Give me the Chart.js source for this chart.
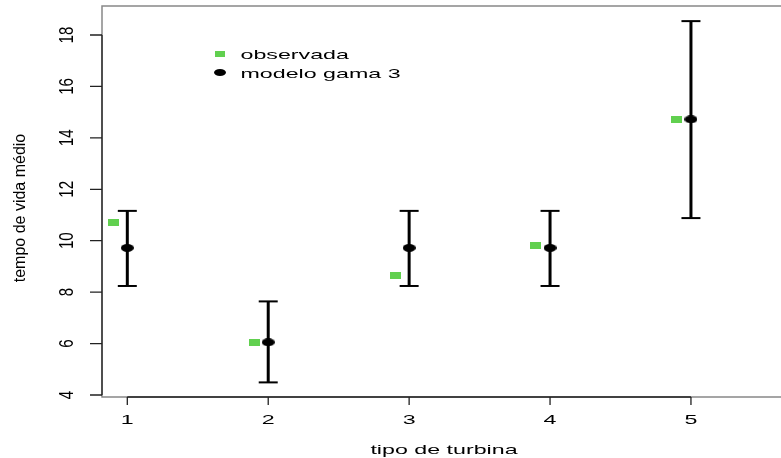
<!DOCTYPE html>
<html>
<head>
<meta charset="utf-8">
<script src="https://cdn.jsdelivr.net/npm/chart.js@4"></script>
<style>
  body { margin: 0; background: #fff; }
  canvas { display: block; }
</style>
</head>
<body>
<canvas id="turbinaChart" width="781" height="458"></canvas>
<script>
// tipo de turbina (x positions of the model and of the observed means)
const categories = [1, 2, 3, 4, 5];
const tickLabels = ['1', '2', '3', '4', '5'];
const observedX = [0.9, 1.9, 2.9, 3.9, 4.9];
const yTicks = [4, 6, 8, 10, 12, 14, 16, 18];

// tempo de vida medio
const observed = [10.71, 6.04, 8.65, 9.82, 14.72];
const modelMean = [9.72, 6.05, 9.72, 9.72, 14.72];
const modelLower = [8.24, 4.49, 8.24, 8.24, 10.88];
const modelUpper = [11.16, 7.64, 11.16, 11.16, 18.54];

const green = '#61D04F';
const font = '"Liberation Sans", Arial, sans-serif';

// small canvases used as point styles
function makeMarker(w, h, kind) {
  const c = document.createElement('canvas');
  c.width = w; c.height = h;
  const g = c.getContext('2d');
  if (kind === 'rect') {
    g.fillStyle = green;
    g.fillRect(0, 0, w, h);
  } else {
    g.fillStyle = '#000';
    g.beginPath();
    g.ellipse(w / 2, h / 2, w / 2, h / 2, 0, 0, Math.PI * 2);
    g.fill();
  }
  return c;
}
const greenRect = makeMarker(11, 7, 'rect');
const blackDot = makeMarker(13, 8, 'dot');
const greenRectLeg = makeMarker(10, 6, 'rect');
const blackDotLeg = makeMarker(12, 7, 'dot');

// text with separate scale along / across (the reference is stretched)
function drawText(ctx, s, x, y, size, sx, sy, rotated, align) {
  ctx.save();
  ctx.translate(x, y);
  if (rotated) ctx.rotate(-Math.PI / 2);
  ctx.scale(sx, sy);
  ctx.font = size + 'px ' + font;
  ctx.fillStyle = '#000';
  ctx.textAlign = align || 'center';
  ctx.textBaseline = 'alphabetic';
  ctx.fillText(s, 0, 0);
  ctx.restore();
}

const framePlugin = {
  id: 'rFrame',
  afterDraw(chart) {
    const ctx = chart.ctx;
    const a = chart.chartArea;
    const xs = chart.scales.x;
    const ys = chart.scales.y;

    // box (right side lies outside the picture)
    ctx.save();
    ctx.strokeStyle = '#888';
    ctx.lineWidth = 1.5;
    ctx.beginPath();
    ctx.moveTo(a.right + 5, a.top);
    ctx.lineTo(a.left, a.top);
    ctx.lineTo(a.left, a.bottom);
    ctx.lineTo(a.right + 5, a.bottom);
    ctx.stroke();

    // axes
    ctx.strokeStyle = '#222';
    ctx.lineWidth = 1.3;
    const x1 = xs.getPixelForValue(categories[0]);
    const x5 = xs.getPixelForValue(categories[categories.length - 1]);
    ctx.beginPath();
    ctx.moveTo(x1, a.bottom);
    ctx.lineTo(x5, a.bottom);
    categories.forEach(v => {
      const px = xs.getPixelForValue(v);
      ctx.moveTo(px, a.bottom);
      ctx.lineTo(px, a.bottom + 8);
    });
    const yb = ys.getPixelForValue(yTicks[0]);
    const yt = ys.getPixelForValue(yTicks[yTicks.length - 1]);
    ctx.moveTo(a.left, yb);
    ctx.lineTo(a.left, yt);
    yTicks.forEach(v => {
      const py = ys.getPixelForValue(v);
      ctx.moveTo(a.left, py);
      ctx.lineTo(a.left - 12, py);
    });
    ctx.stroke();
    ctx.restore();

    // tick labels
    categories.forEach((v, i) => {
      drawText(ctx, tickLabels[i], xs.getPixelForValue(v), 423.5, 13.5, 1.72, 1, false);
    });
    yTicks.forEach(v => {
      drawText(ctx, String(v), 73.3, ys.getPixelForValue(v), 13.5, 1.12, 1.55, true);
    });

    // axis titles
    drawText(ctx, 'tipo de turbina', 444, 454, 13.5, 1.72, 1, false);
    drawText(ctx, 'tempo de vida médio', 24.9, 208, 16, 1, 1, true);

    // legend
    ctx.drawImage(greenRectLeg, 220 - 5, 53.5 - 3);
    ctx.drawImage(blackDotLeg, 220 - 6, 72.5 - 3.5);
    drawText(ctx, 'observada', 240.5, 59, 13.5, 1.72, 1, false, 'left');
    drawText(ctx, 'modelo gama 3', 240.5, 77.5, 13.5, 1.72, 1, false, 'left');
  }
};

// one vertical segment per turbine for the interval
const barDatasets = categories.map((x, i) => ({
  type: 'scatter',
  data: [{ x: x, y: modelLower[i] }, { x: x, y: modelUpper[i] }],
  showLine: true,
  borderColor: '#000',
  borderWidth: 3,
  pointRadius: 0,
  order: 3
}));

const capData = [];
categories.forEach((x, i) => {
  capData.push({ x: x, y: modelLower[i] });
  capData.push({ x: x, y: modelUpper[i] });
});

const ctx = document.getElementById('turbinaChart').getContext('2d');
const turbinaChart = new Chart(ctx, {
  type: 'scatter',
  data: {
    datasets: [
      {
        label: 'modelo gama 3',
        data: categories.map((x, i) => ({ x: x, y: modelMean[i] })),
        pointStyle: blackDot,
        pointRadius: 7,
        order: 0
      },
      {
        label: 'observada',
        data: observedX.map((x, i) => ({ x: x, y: observed[i] })),
        pointStyle: greenRect,
        pointRadius: 6,
        order: 1
      },
      {
        label: 'caps',
        data: capData,
        pointStyle: 'line',
        pointRadius: 9.5,
        borderColor: '#000',
        borderWidth: 2,
        order: 2
      },
      ...barDatasets
    ]
  },
  options: {
    responsive: false,
    animation: false,
    events: [],
    layout: {
      autoPadding: false,
      padding: { left: 102, top: 6, right: 0, bottom: 61 }
    },
    scales: {
      x: {
        type: 'linear',
        display: false,
        min: 0.8204,
        max: 5.639
      },
      y: {
        type: 'linear',
        display: false,
        min: 3.922,
        max: 19.128
      }
    },
    plugins: {
      legend: { display: false },
      tooltip: { enabled: false }
    }
  },
  plugins: [framePlugin]
});
</script>
</body>
</html>
